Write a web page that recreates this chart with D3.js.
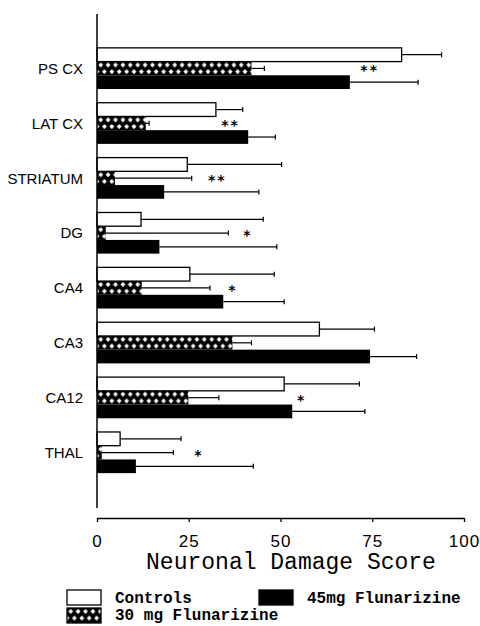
<!DOCTYPE html>
<html>
<head>
<meta charset="utf-8">
<script src="https://cdn.jsdelivr.net/npm/d3@7"></script>
<style>
  body { margin: 0; background: #fff; }
</style>
</head>
<body>
<div id="chart"></div>
<script>
// Regions and group values (neuronal damage score, mean and SD)
const categories = ["PS CX", "LAT CX", "STRIATUM", "DG", "CA4", "CA3", "CA12", "THAL"];
const controls = [83.0, 32.4, 24.6, 12.0, 25.3, 60.6, 51.0, 6.3];
const controlsSD = [10.9, 7.3, 25.7, 33.3, 23.0, 15.0, 20.5, 16.6];
const flun30 = [42.1, 13.3, 4.9, 2.4, 12.2, 36.9, 24.9, 1.3];
const flun30SD = [3.5, 0.9, 20.9, 33.4, 18.6, 5.2, 8.3, 19.5];
const flun45 = [68.9, 41.2, 18.3, 17.0, 34.4, 74.4, 53.2, 10.6];
const flun45SD = [18.6, 7.4, 25.8, 32.0, 16.6, 12.7, 19.8, 32.0];
const significance = ["**", "**", "**", "*", "*", "", "*", "*"];
const sigAt = [74.3, 36.4, 32.8, 41.1, 37.0, 0, 55.8, 27.8];
const xTicks = [0, 25, 50, 75, 100];
const seriesKeys = ["controls", "f30", "f45"];
const seriesLabels = ["Controls", "30 mg Flunarizine", "45mg Flunarizine"];

const width = 480, height = 626;

const svg = d3.select("#chart")
    .append("svg")
    .attr("width", width)
    .attr("height", height)
    .style("background", "#fff");

// Crosshatch fill for the 30 mg group
const defs = svg.append("defs");
const pat = defs.append("pattern")
    .attr("id", "hatch")
    .attr("patternUnits", "userSpaceOnUse")
    .attr("width", 7.4)
    .attr("height", 13.4);
pat.append("rect").attr("width", 7.4).attr("height", 13.4).attr("fill", "#000");
[[3.7, 3.4], [0, 10.1], [7.4, 10.1]].forEach(function(c) {
    pat.append("path")
        .attr("d", `M${c[0] - 2.4},${c[1]}L${c[0]},${c[1] - 2.5}L${c[0] + 2.4},${c[1]}L${c[0]},${c[1] + 2.5}Z`)
        .attr("fill", "#fff");
});

const x = d3.scaleLinear()
    .domain([0, 100])
    .range([97, 464]);

const y = d3.scaleBand()
    .domain(categories)
    .range([41, 480])
    .paddingInner(0.25)
    .paddingOuter(0.125);

const ySub = d3.scaleBand()
    .domain(seriesKeys)
    .range([0, y.bandwidth()]);

const fills = { controls: "#fff", f30: "url(#hatch)", f45: "#000" };

// Build rows for every bar
const rows = [];
categories.forEach(function(c, i) {
    rows.push({ cat: c, key: "controls", v: controls[i], sd: controlsSD[i] });
    rows.push({ cat: c, key: "f30", v: flun30[i], sd: flun30SD[i] });
    rows.push({ cat: c, key: "f45", v: flun45[i], sd: flun45SD[i] });
});

// Error bars (drawn first so bars sit on top)
const err = svg.append("g").attr("stroke", "#000").attr("stroke-width", 1.2);
rows.forEach(function(d) {
    const cy = y(d.cat) + ySub(d.key) + ySub.bandwidth() / 2;
    err.append("line")
        .attr("x1", x(d.v)).attr("x2", x(d.v + d.sd))
        .attr("y1", cy).attr("y2", cy);
    err.append("line")
        .attr("x1", x(d.v + d.sd)).attr("x2", x(d.v + d.sd))
        .attr("y1", cy - 2.5).attr("y2", cy + 2.5);
});

// Bars: each rect is translated so the hatch pattern lines up with its top
svg.append("g")
    .selectAll("rect")
    .data(rows)
    .enter()
    .append("rect")
    .attr("transform", d => `translate(${x(0)},${y(d.cat) + ySub(d.key)})`)
    .attr("width", d => x(d.v) - x(0))
    .attr("height", ySub.bandwidth())
    .attr("fill", d => fills[d.key])
    .attr("stroke", d => d.key === "controls" ? "#000" : "none")
    .attr("stroke-width", 1.3);

// Significance stars
svg.append("g")
    .selectAll("text")
    .data(categories)
    .enter()
    .append("text")
    .attr("x", (d, i) => x(sigAt[i]))
    .attr("y", d => y(d) + ySub("f30") + ySub.bandwidth() / 2 + 7)
    .attr("text-anchor", "middle")
    .style("font-family", "DejaVu Sans, sans-serif")
    .style("font-weight", "bold")
    .style("font-size", "14px")
    .style("letter-spacing", "2px")
    .text((d, i) => significance[i]);

// Y axis: category labels plus a plain vertical line
const yAxis = svg.append("g")
    .attr("transform", `translate(${x(0)},0)`)
    .call(d3.axisLeft(y).tickSize(0).tickPadding(14));
yAxis.select(".domain").remove();
yAxis.selectAll("text")
    .attr("dy", "0.36em")
    .style("font-family", "Liberation Sans, Arial, sans-serif")
    .style("font-size", "15px")
    .attr("fill", "#000");
svg.append("line")
    .attr("x1", x(0)).attr("x2", x(0))
    .attr("y1", 14).attr("y2", 508)
    .attr("stroke", "#000")
    .attr("stroke-width", 1.5);

// X axis
const xAxis = svg.append("g")
    .attr("transform", "translate(0,518)")
    .call(d3.axisBottom(x).tickValues(xTicks).tickSize(4).tickSizeOuter(0).tickPadding(13));
xAxis.select(".domain").attr("stroke-width", 1.5);
xAxis.selectAll(".tick line").attr("stroke-width", 1.3);
xAxis.selectAll("text")
    .style("font-family", "Liberation Sans, Arial, sans-serif")
    .style("font-size", "17px")
    .style("letter-spacing", "1px")
    .attr("fill", "#000");

// X axis title
svg.append("text")
    .attr("x", 291)
    .attr("y", 569)
    .attr("text-anchor", "middle")
    .style("font-family", "Liberation Mono, Courier New, monospace")
    .style("font-size", "23px")
    .text("Neuronal Damage Score");

// Legend
const legend = [
    { key: "controls", label: seriesLabels[0], bx: 67, by: 590, tx: 115, ty: 603 },
    { key: "f45", label: seriesLabels[2], bx: 259, by: 590, tx: 307, ty: 603 },
    { key: "f30", label: seriesLabels[1], bx: 67, by: 608, tx: 115, ty: 620 }
];
legend.forEach(function(l) {
    svg.append("rect")
        .attr("transform", `translate(${l.bx},${l.by})`)
        .attr("width", 34)
        .attr("height", 15)
        .attr("fill", fills[l.key])
        .attr("stroke", "#000")
        .attr("stroke-width", 1.3);
    svg.append("text")
        .attr("x", l.tx)
        .attr("y", l.ty)
        .style("font-family", "Liberation Mono, Courier New, monospace")
        .style("font-size", "16px")
        .style("font-weight", "bold")
        .text(l.label);
});
</script>
</body>
</html>
